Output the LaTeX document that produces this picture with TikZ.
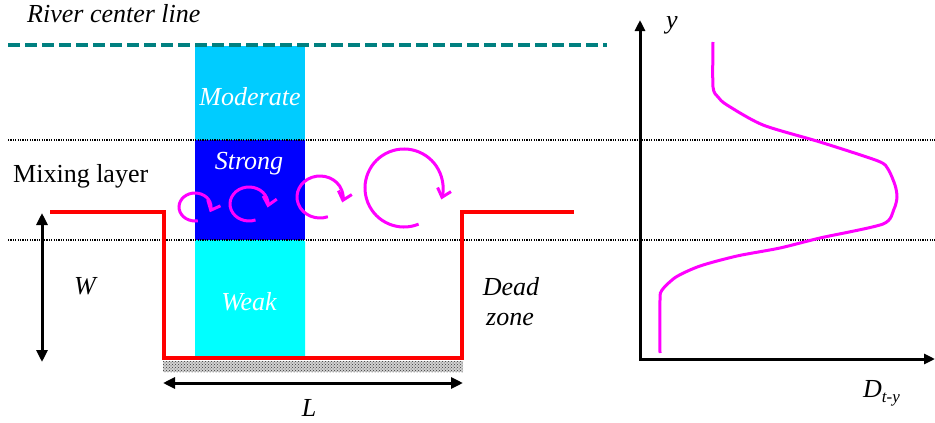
\documentclass[tikz,border=0pt]{standalone}
\usepackage{fontspec}
\setmainfont{Liberation Serif}
\usetikzlibrary{arrows.meta,patterns}
\definecolor{moderatecol}{RGB}{0,204,255}
\definecolor{strongcol}{RGB}{0,0,255}
\definecolor{weakcol}{RGB}{0,255,255}
\definecolor{centercol}{RGB}{0,128,128}
\definecolor{eddycol}{RGB}{255,0,255}
\begin{document}
\begin{tikzpicture}[x=1pt,y=-1pt,
  txt/.style={inner sep=0pt,font=\rmfamily\fontsize{26}{30}\selectfont},
  lbl/.style={inner sep=0pt,font=\rmfamily\fontsize{26}{30}\selectfont\itshape},
  wall/.style={red,line width=3.5pt,line join=miter},
  eddy/.style={eddycol,line width=3pt,-{Straight Barb[length=8pt,width=14pt]}},
  dim/.style={line width=3pt,{Triangle[length=12pt,width=11pt]}-{Triangle[length=12pt,width=11pt]}},
  layer/.style={line width=1.8pt,dash pattern=on 1.2pt off 1.2pt}]
\useasboundingbox (0,0) rectangle (935,423);
% Intensity bands of the column
\fill[moderatecol] (195,46) rectangle (305,140);
\fill[strongcol] (195,140) rectangle (305,240);
\fill[weakcol,rounded corners=2pt] (195,240) -- (195,358) -- (305,358) -- (305,240) -- cycle;
% Limits of the mixing layer
\draw[layer] (8,140) -- (935,140);
\draw[layer] (8,240) -- (935,240);
% River center line
\draw[centercol,line width=4pt,dash pattern=on 12pt off 5pt] (8,45) -- (607,45);
% Dead zone walls and bed
\fill[gray!35] (163,361) rectangle (463,372);
\fill[pattern=crosshatch dots,pattern color=black!80] (163,361) rectangle (463,372);
\draw[wall] (50,212) -- (164,212) -- (164,358) -- (462,358) -- (462,212) -- (574,212);
% Dimensions
\coordinate (wtop) at (42,213);
\coordinate (wbot) at (42,362);
\coordinate (lleft) at (163,383);
\coordinate (lright) at (463,383);
\draw[dim] (wtop) -- (wbot);
\draw[dim] (lleft) -- (lright);
% Eddies along the interface
\draw[eddy] (195,207) ++(80:16 and 14) arc[start angle=80,end angle=382,x radius=16,y radius=14];
\draw[eddy] (249,204) ++(70:19 and 17) arc[start angle=70,end angle=372,x radius=19,y radius=17];
\draw[eddy] (320,197) ++(70:23 and 21) arc[start angle=70,end angle=375,x radius=23,y radius=21];
\draw[eddy] (404,188) ++(68:39 and 39) arc[start angle=68,end angle=377,x radius=39,y radius=39];
% Profile of the transverse coefficient
\draw[eddycol,line width=3pt] plot[smooth,tension=0.45] coordinates {(713,42) (713,87) (718,97) (727,105) (763,125) (820,142) (878,161) (888,169) (895,185) (897,197) (894,209) (883,224) (820,238) (780,248) (737,256) (700,266) (676,277) (662,290) (660,300) (660,353)};
\draw[line width=3pt,{Triangle[length=11pt,width=10pt]}-{Triangle[length=11pt,width=10pt]}] (640,20) |- (935,359);
% Labels
\node (rivertxt) at (27,22) [lbl,anchor=base west] {River center line};
\node (moderatetxt) at (250,105) [lbl,anchor=base,text=white] {Moderate};
\node (strongtxt) at (249,169) [lbl,anchor=base,text=white] {Strong};
\node (weaktxt) at (249,310) [lbl,anchor=base,text=white] {Weak};
\node (mixtxt) at (13,182) [txt,anchor=base west] {Mixing layer};
\node (deadtxt) at (511,295) [lbl,anchor=base] {Dead};
\node (zonetxt) at (510,325) [lbl,anchor=base] {zone};
\node (wtxt) at (85,294) [lbl,anchor=base] {W};
\node (ltxt) at (309,416) [lbl,anchor=base] {L};
\node (ytxt) at (672,28) [lbl,anchor=base] {y};
\node (dtxt) at (863,397) [lbl,anchor=base west] {D\raisebox{-5pt}{\fontsize{17}{20}\selectfont t-y}};
\end{tikzpicture}
\end{document}
